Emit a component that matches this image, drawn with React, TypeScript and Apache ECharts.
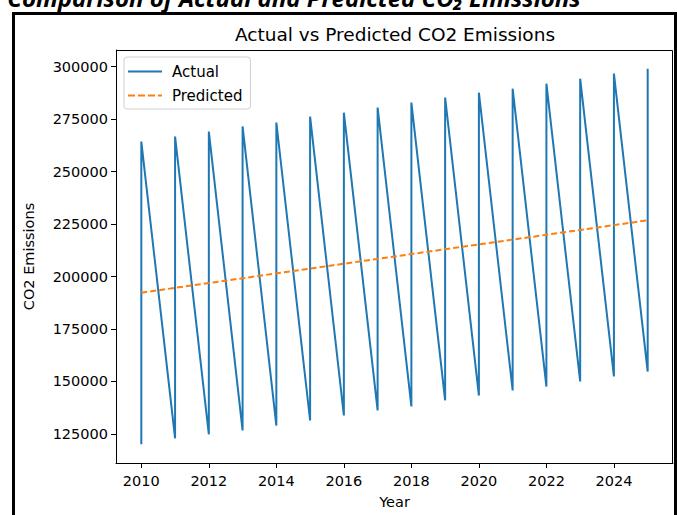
import React, { useEffect, useRef } from "react";
import * as echarts from "echarts";

// Years on the x axis
const years = [2010, 2011, 2012, 2013, 2014, 2015, 2016, 2017, 2018, 2019, 2020, 2021, 2022, 2023, 2024, 2025];
// Actual emissions: each year has a low reading followed by a high reading
const actualLow = [120100, 122900, 124800, 126700, 129000, 131400, 133800, 136200, 138100, 141000, 143300, 145700, 147600, 150000, 152400, 154700];
const actualHigh = [264300, 266700, 269100, 271500, 273400, 276200, 278100, 280500, 282900, 285300, 287600, 289500, 291900, 294300, 296700, 299000];
// Model prediction per year
const predicted = [192300, 194600, 196900, 199200, 201500, 203800, 206100, 208400, 210700, 213000, 215300, 217600, 219900, 222200, 224500, 226800];
// Tick labels
const xTicks = [2010, 2012, 2014, 2016, 2018, 2020, 2022, 2024];
const yTicks = [125000, 150000, 175000, 200000, 225000, 250000, 275000, 300000];

const FONT = "DejaVu Sans";
const BLUE = "#1f77b4";
const ORANGE = "#ff7f0e";

// legend keys: a solid stroke and a dashed stroke
const SOLID_ICON = "path://M0,0h34v2h-34z";
const DASHED_ICON = "path://M0,0h7v2h-7z M10,0h7v2h-7z M20,0h7v2h-7z M30,0h4v2h-4z";

export default function App() {
  const ref = useRef<HTMLDivElement>(null);

  useEffect(() => {
    if (!ref.current) return;
    const chart = echarts.init(ref.current, null, { renderer: "svg" });

    const actualData: number[][] = [];
    years.forEach((y, i) => {
      actualData.push([y, actualLow[i]]);
      actualData.push([y, actualHigh[i]]);
    });
    const predData = years.map((y, i) => [y, predicted[i]]);

    const allVals = [...actualLow, ...actualHigh, ...predicted];
    const yMinD = Math.min(...allVals);
    const yMaxD = Math.max(...allVals);
    const yPad = (yMaxD - yMinD) * 0.05;
    const xPad = (years[years.length - 1] - years[0]) * 0.05;

    chart.setOption({
      animation: false,
      backgroundColor: "#ffffff",
      title: {
        text: "Actual vs Predicted CO2 Emissions",
        left: 390,
        top: 20,
        textAlign: "center",
        textStyle: { fontFamily: FONT, fontSize: 18.5, fontWeight: "normal", color: "#000" },
      },
      grid: { left: 116, top: 50, right: 4, bottom: 52, containLabel: false },
      legend: {
        left: 124,
        top: 57,
        orient: "vertical",
        itemWidth: 34,
        itemHeight: 14,
        itemGap: 9,
        padding: [7, 8, 6, 4],
        backgroundColor: "rgba(255,255,255,0.8)",
        borderColor: "#d0d0d0",
        borderWidth: 1,
        borderRadius: 3,
        textStyle: { fontFamily: FONT, fontSize: 15, color: "#000", padding: [0, 0, 0, 5] },
        data: [
          { name: "Actual", icon: SOLID_ICON, itemStyle: { color: BLUE } },
          { name: "Predicted", icon: DASHED_ICON, itemStyle: { color: ORANGE } },
        ],
      },
      xAxis: {
        type: "value",
        min: years[0] - xPad,
        max: years[years.length - 1] + xPad,
        name: "Year",
        nameLocation: "middle",
        nameGap: 31,
        nameTextStyle: { fontFamily: FONT, fontSize: 14.5, color: "#000" },
        splitLine: { show: false },
        axisLine: { onZero: false, lineStyle: { color: "#000", width: 1 } },
        axisTick: { show: true, length: 5, customValues: xTicks, lineStyle: { color: "#000" } },
        axisLabel: {
          customValues: xTicks,
          fontFamily: FONT,
          fontSize: 14.5,
          color: "#000",
          margin: 10,
          formatter: (v: number) => String(v),
        },
      },
      yAxis: {
        type: "value",
        min: yMinD - yPad,
        max: yMaxD + yPad,
        name: "CO2 Emissions",
        nameLocation: "middle",
        nameGap: 80,
        nameTextStyle: { fontFamily: FONT, fontSize: 14.5, color: "#000" },
        splitLine: { show: false },
        axisLine: { show: true, onZero: false, lineStyle: { color: "#000", width: 1 } },
        axisTick: { show: true, length: 5, customValues: yTicks, lineStyle: { color: "#000" } },
        axisLabel: {
          customValues: yTicks,
          fontFamily: FONT,
          fontSize: 14.5,
          color: "#000",
          margin: 8,
          formatter: (v: number) => String(v),
        },
      },
      series: [
        {
          name: "Actual",
          type: "line",
          data: actualData,
          symbol: "none",
          lineStyle: { color: BLUE, width: 2 },
          itemStyle: { color: BLUE },
        },
        {
          name: "Predicted",
          type: "line",
          data: predData,
          symbol: "none",
          lineStyle: { color: ORANGE, width: 2, type: [6, 3] },
          itemStyle: { color: ORANGE },
        },
      ],
      graphic: [
        // top and right spines of the plot frame
        {
          type: "polyline",
          shape: { points: [[116, 50.5], [672.5, 50.5], [672.5, 463]] },
          style: { stroke: "#000", lineWidth: 1, fill: "none" },
          z: 10,
        },
        // outer frame of the figure
        {
          type: "polyline",
          shape: { points: [[13.5, 515], [13.5, 13.5], [675.5, 13.5], [675.5, 515]] },
          style: { stroke: "#000", lineWidth: 3, fill: "none" },
          z: 10,
        },
        {
          type: "text",
          x: 294,
          y: 9,
          style: {
            text: "Comparison of Actual and Predicted CO₂ Emissions",
            fontFamily: "Open Sans",
            fontSize: 24,
            fontWeight: "bold",
            fontStyle: "italic",
            fill: "#000",
            align: "center",
            verticalAlign: "bottom",
          },
          z: 10,
        },
      ],
    });

    return () => chart.dispose();
  }, []);

  return (
    <div
      ref={ref}
      style={{ position: "fixed", left: 0, top: 0, width: 677, height: 515 }}
    />
  );
}
